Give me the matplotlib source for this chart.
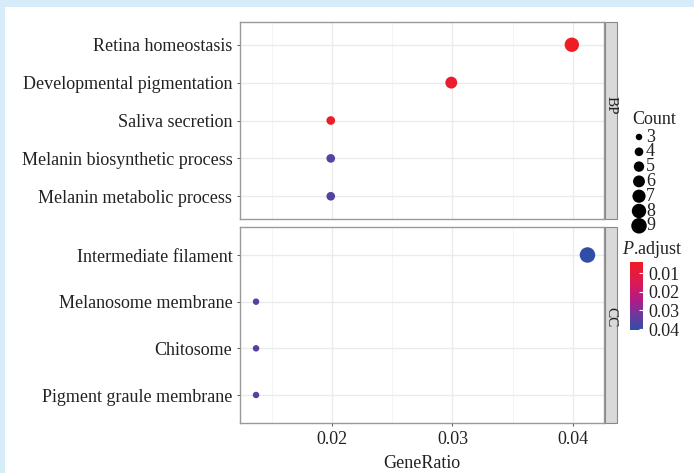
import matplotlib
matplotlib.use("Agg")
import matplotlib.pyplot as plt
import numpy as np
from matplotlib.colors import LinearSegmentedColormap, Normalize
from matplotlib.patches import Rectangle
import matplotlib.colorbar as mcolorbar

plt.rcParams['font.family'] = ['Liberation Serif', 'DejaVu Serif']
plt.rcParams['mathtext.fontset'] = 'custom'
plt.rcParams['mathtext.it'] = 'Liberation Serif:italic'
plt.rcParams['mathtext.rm'] = 'Liberation Serif'

# data
bp_terms = ['Retina homeostasis', 'Developmental pigmentation', 'Saliva secretion',
            'Melanin biosynthetic process', 'Melanin metabolic process']
bp_ratio = [0.0399, 0.0299, 0.0199, 0.0199, 0.0199]
bp_count = [8, 6, 4, 4, 4]
bp_padj = [0.004, 0.007, 0.005, 0.036, 0.036]

cc_terms = ['Intermediate filament', 'Melanosome membrane', 'Chitosome',
            'Pigment graule membrane']
cc_ratio = [0.0412, 0.0137, 0.0137, 0.0137]
cc_count = [9, 3, 3, 3]
cc_padj = [0.0405, 0.035, 0.035, 0.035]

legend_counts = [3, 4, 5, 6, 7, 8, 9]
padj_ticks = [0.01, 0.02, 0.03, 0.04]
x_ticks = [0.02, 0.03, 0.04]
x_minor = [0.015, 0.025, 0.035]

W, H = 694, 473
FS = 13
cmap = LinearSegmentedColormap.from_list(
    'padj', [(0, '#ee1d23'), (0.3, '#dc1a52'), (0.55, '#b41a86'),
             (0.78, '#6f379e'), (1, '#2f4fa7')])
norm = Normalize(vmin=0.004, vmax=0.0405)


def size_of(c):
    d = np.sqrt(33.0 * np.asarray(c) - 57.0)   # diameter in px
    return (d * 0.72) ** 2


def px_axes(x0, y0, x1, y1):
    return fig.add_axes([x0 / W, 1 - y1 / H, (x1 - x0) / W, (y1 - y0) / H])


fig = plt.figure(figsize=(W / 100, H / 100), dpi=100)
fig.patch.set_facecolor('#d6ecf9')
fig.add_artist(Rectangle((5 / W, 0), 1, 1 - 7 / H, transform=fig.transFigure,
                         facecolor='white', edgecolor='none', zorder=0))

panels = [(bp_terms, bp_ratio, bp_count, bp_padj, 22, 219, 'BP', 105),
          (cc_terms, cc_ratio, cc_count, cc_padj, 227, 423, 'CC', 317)]

for i, (terms, ratio, count, padj, y0, y1, lab, ly) in enumerate(panels):
    ax = px_axes(240, y0, 604, y1)
    ypos = np.arange(len(terms))
    ax.scatter(ratio, ypos, s=size_of(count), c=padj, cmap=cmap, norm=norm,
               edgecolors='none', zorder=3)
    ax.set_xlim(0.01237, 0.04257)
    ax.set_ylim(len(terms) - 0.4, -0.6)
    ax.set_yticks(ypos)
    ax.set_yticklabels(terms, fontsize=FS, color='#222222')
    ax.set_xticks(x_ticks)
    ax.set_xticks(x_minor, minor=True)
    ax.grid(True, which='major', color='#ebebeb', lw=1.0, zorder=0)
    ax.grid(True, which='minor', axis='x', color='#f2f2f2', lw=0.6, zorder=0)
    ax.tick_params(which='minor', length=0)
    ax.tick_params(axis='both', length=2.5, color='#555555', width=0.7, pad=3)
    ax.set_axisbelow(True)
    for sp in ax.spines.values():
        sp.set_color('#999999')
        sp.set_linewidth(1.0)
    if i == 0:
        ax.tick_params(axis='x', length=0, labelbottom=False)
    else:
        ax.set_xticklabels(['0.02', '0.03', '0.04'], fontsize=FS, color='#222222')
        ax.set_xlabel('GeneRatio', fontsize=FS, color='#222222', labelpad=5)
    # strip
    fig.add_artist(Rectangle((605 / W, 1 - y1 / H), 12 / W, (y1 - y0) / H,
                             transform=fig.transFigure, facecolor='#d9d9d9',
                             edgecolor='#888888', lw=0.8))
    fig.text(611 / W, 1 - ly / H, lab, rotation=-90, ha='center', va='center',
             fontsize=11, color='#222222')

# size legend
fig.text(632 / W, 1 - 119 / H, 'Count', fontsize=FS, color='#222222',
         ha='left', va='center')
lax = fig.add_axes([0, 0, 1, 1])
lax.set_xlim(0, W)
lax.set_ylim(H, 0)
lax.axis('off')
lax.patch.set_alpha(0)
ly = 137 + 14.8 * np.arange(len(legend_counts))
lax.scatter([639] * len(legend_counts), ly, s=size_of(legend_counts),
            color='black', edgecolors='none')
for c, yy in zip(legend_counts, ly):
    lax.text(646, yy, str(c), fontsize=FS, color='#222222', ha='left', va='center')

# colour legend
fig.text(622 / W, 1 - 250 / H, r'$\mathit{P}$.adjust', fontsize=FS,
         color='#222222', ha='left', va='center')
cax = px_axes(630, 262, 643, 330)
cb = mcolorbar.ColorbarBase(cax, cmap=cmap, norm=norm, orientation='vertical')
cb.outline.set_visible(False)
cax.invert_yaxis()
cb.set_ticks(padj_ticks)
cb.set_ticklabels(['0.01', '0.02', '0.03', '0.04'])
cax.tick_params(length=3, color='white', width=0.8, direction='in', pad=4,
                labelsize=FS, labelcolor='#222222')

fig.savefig('out.png', dpi=100)
